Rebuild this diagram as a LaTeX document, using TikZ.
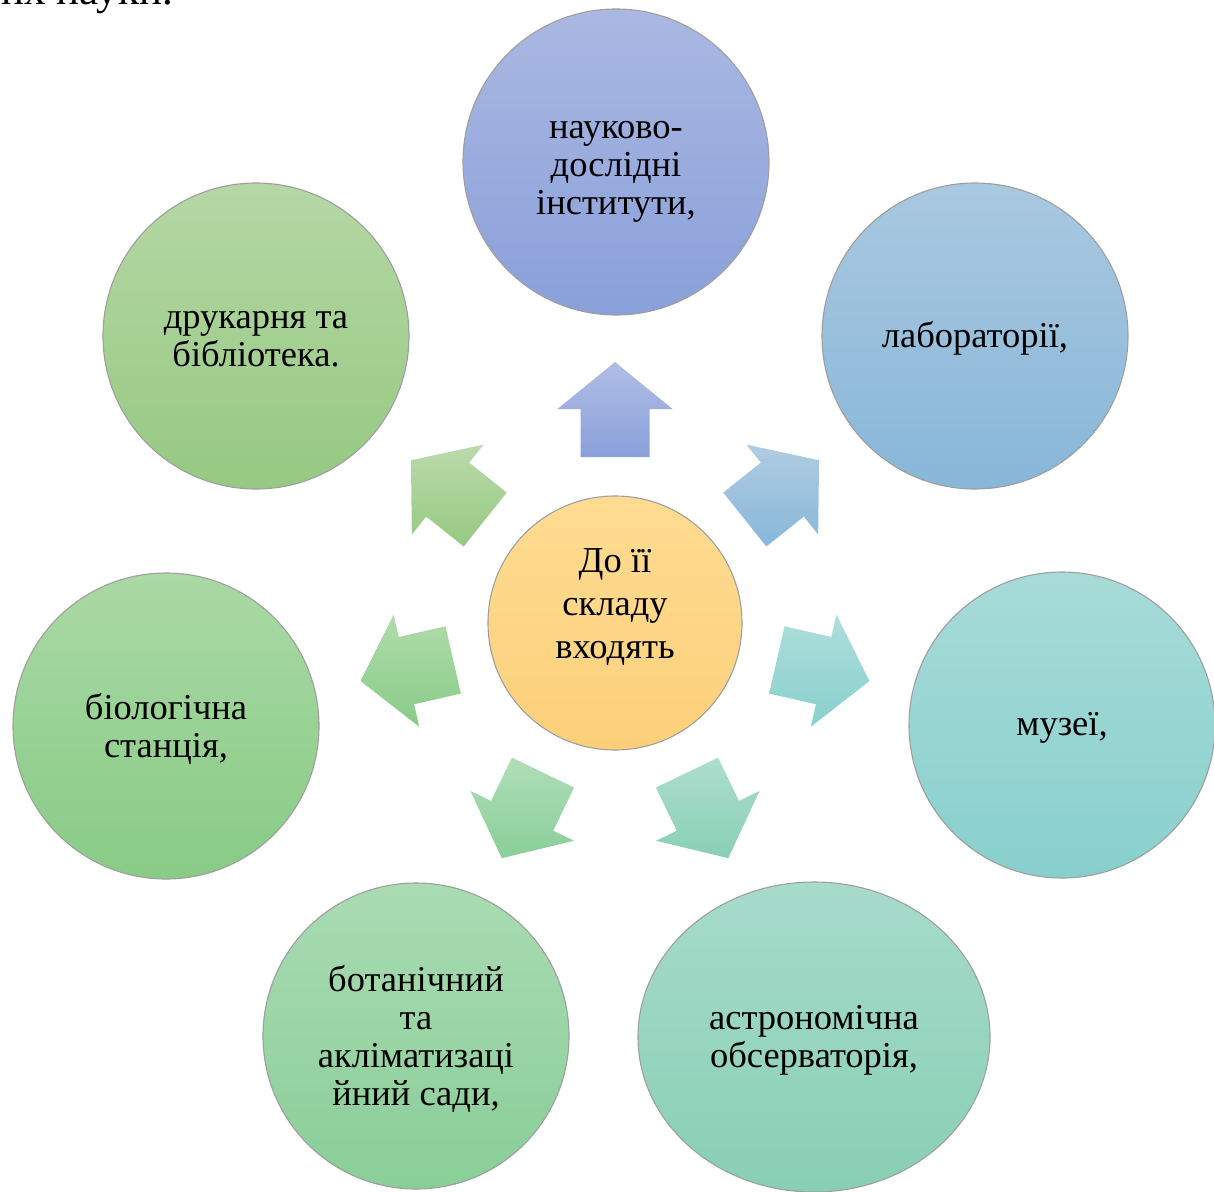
\documentclass[tikz,border=0pt]{standalone}
\usepackage{fontspec}
\setmainfont{Liberation Serif}
\usetikzlibrary{shapes.geometric}
\definecolor{c1t}{HTML}{AAB8E2}\definecolor{c1b}{HTML}{8AA0DA}
\definecolor{c2t}{HTML}{A9C8E0}\definecolor{c2b}{HTML}{88B7D9}
\definecolor{c3t}{HTML}{A7DBD8}\definecolor{c3b}{HTML}{88D0CD}
\definecolor{c4t}{HTML}{A7DBCB}\definecolor{c4b}{HTML}{88CFB4}
\definecolor{c5t}{HTML}{AADBB2}\definecolor{c5b}{HTML}{89CE98}
\definecolor{c6t}{HTML}{AAD9A4}\definecolor{c6b}{HTML}{88CB86}
\definecolor{c7t}{HTML}{B5D7A5}\definecolor{c7b}{HTML}{96C981}
\definecolor{c0t}{HTML}{FFDC92}\definecolor{c0b}{HTML}{FCD07A}
\begin{document}
\begin{tikzpicture}[x=1pt,y=-1pt,
  bubble/.style={circle, minimum size=306pt, inner sep=0pt, draw=gray!75, line width=1.1pt},
  lbl/.style={align=center, inner sep=0pt, font=\fontsize{36.5}{38}\selectfont},
  hub/.style={circle, minimum size=254pt, inner sep=0pt, draw=gray!75, line width=1.1pt,
    top color=c0t, bottom color=c0b},
  hublabel/.style={align=center, inner sep=0pt, font=\fontsize{36.5}{43}\selectfont}
]
\useasboundingbox (0,0) rectangle (1214,1191);
\clip (0,0) rectangle (1214,1191);
\fill[white] (0,0) rectangle (1214,1191);

% fragment of document text at the top
\node[anchor=base east, inner sep=0pt, font=\fontsize{43}{46}\selectfont] (frag) at (173,5) {их науки.};

% block arrows
\foreach \ang/\ct/\cb in {90/c1t/c1b, 38.571/c2t/c2b, -12.857/c3t/c3b, -64.286/c4t/c4b,
                          -115.714/c5t/c5b, -167.143/c6t/c6b, 141.429/c7t/c7b}{
  \begin{scope}[shift={(615,623)}, rotate=\ang]
    \path[top color=\ct!92!white, bottom color=\cb]
      (166,-34.5) -- (214,-34.5) -- (214,-57.5) -- (261,0) -- (214,57.5) -- (214,34.5) -- (166,34.5) -- cycle;
  \end{scope}
}

% central circle
\node[hub, label={[hublabel, yshift=16pt]center:{До її\\складу\\входять}}] (hub) at (615,623) {};

% outer circles
\node[bubble, top color=c1t, bottom color=c1b,
  label={[lbl, yshift=-10pt]center:{науково-\\дослідні\\інститути,}}] (n1) at (616,162) {};
\node[bubble, top color=c2t, bottom color=c2b,
  label={[lbl, yshift=-2pt]center:{лабораторії,}}] (n2) at (975,336) {};
\node[bubble, top color=c3t, bottom color=c3b,
  label={[lbl, yshift=-3pt]center:{музеї,}}] (n3) at (1062,725) {};
\node[bubble, ellipse, minimum width=352pt, minimum height=310pt, top color=c4t, bottom color=c4b,
  label={[lbl, yshift=-3pt]center:{астрономічна\\обсерваторія,}}] (n4) at (814,1037) {};
\node[bubble, top color=c5t, bottom color=c5b,
  label={[lbl, yshift=-3pt]center:{ботанічний\\та\\акліматизаці\\йний сади,}}] (n5) at (416,1036) {};
\node[bubble, top color=c6t, bottom color=c6b,
  label={[lbl, yshift=-3pt]center:{біологічна\\станція,}}] (n6) at (166,726) {};
\node[bubble, top color=c7t, bottom color=c7b,
  label={[lbl, yshift=-3pt]center:{друкарня та\\бібліотека.}}] (n7) at (256,336) {};
\end{tikzpicture}
\end{document}
